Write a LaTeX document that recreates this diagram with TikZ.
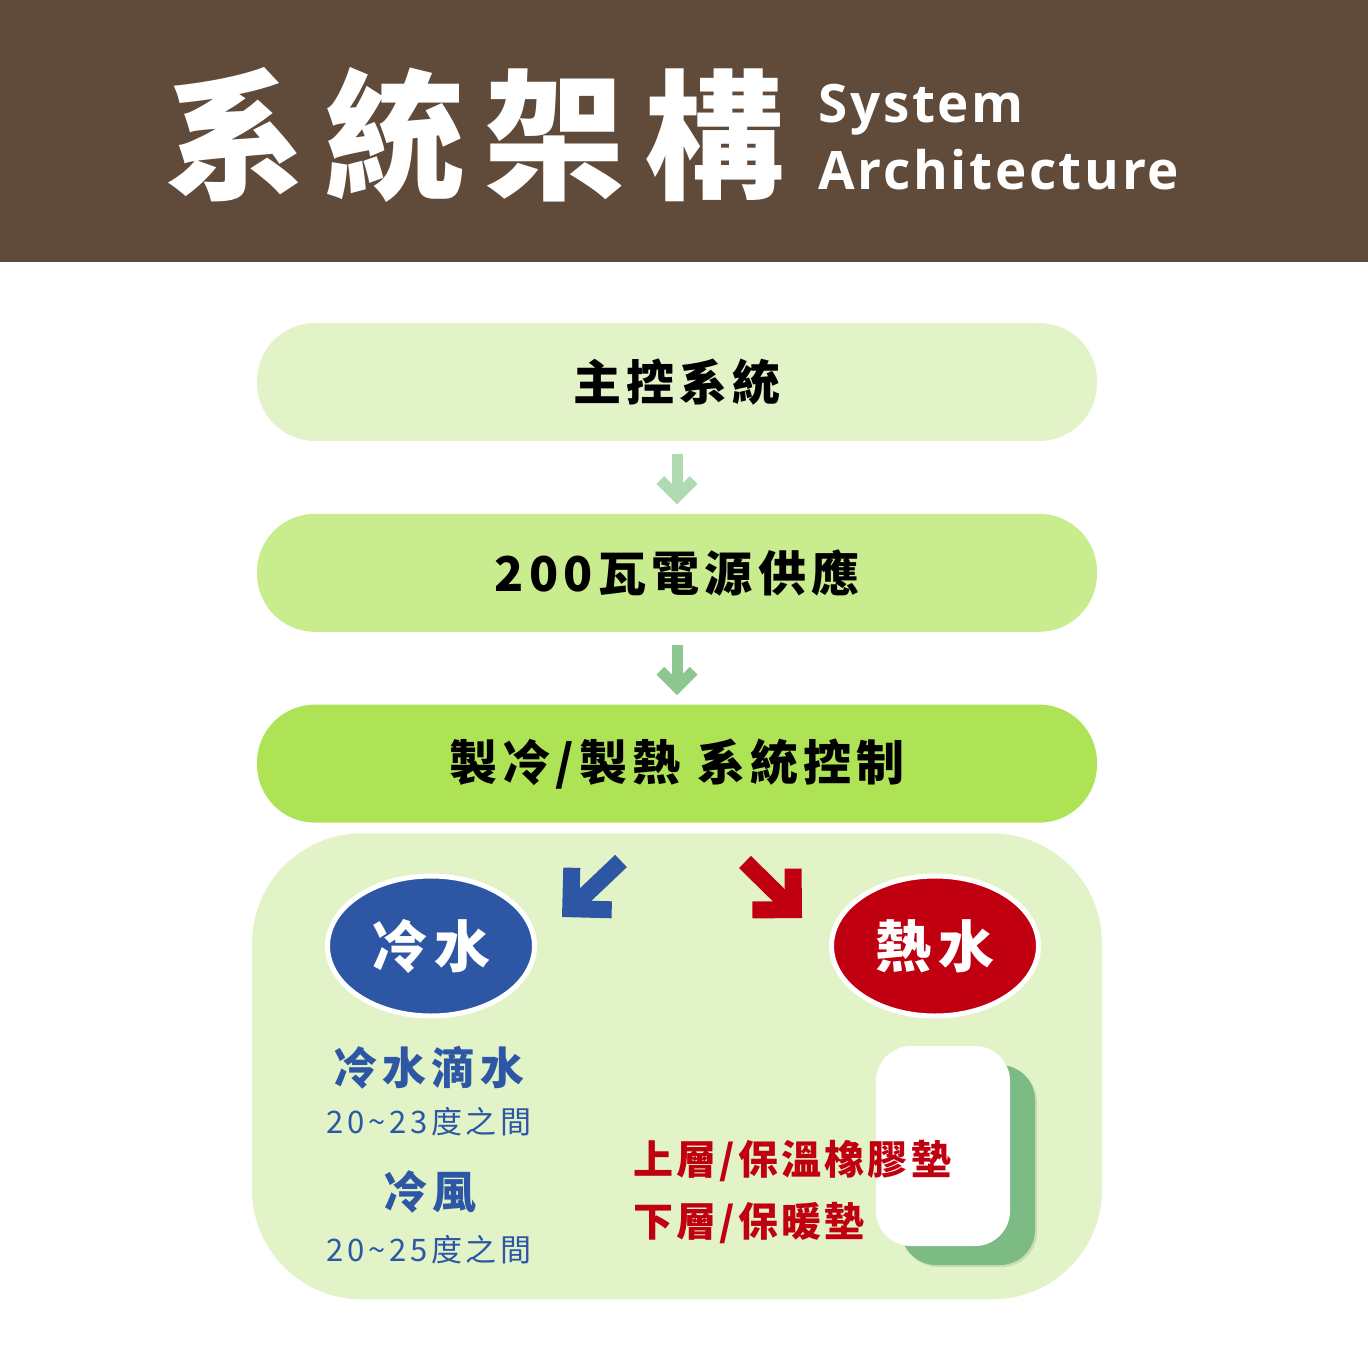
\documentclass[tikz,border=0pt]{standalone}
\usepackage{fontspec}
\setmainfont{Noto Sans CJK TC}
\newfontfamily\cjkfont{Noto Sans CJK TC}[LetterSpace=8]
\newfontfamily\cjkboxfont{Noto Sans CJK TC}[LetterSpace=11]
\newfontfamily\cjkwide{Noto Sans CJK TC}[LetterSpace=12]
\newfontfamily\cjktitle{Noto Sans CJK TC}[LetterSpace=14]
\newfontfamily\latinfont{Open Sans}[LetterSpace=5]
\usetikzlibrary{arrows.meta,positioning,shapes.geometric}
\definecolor{headbrown}{RGB}{96,75,59}
\definecolor{flowpale}{RGB}{226,244,199}
\definecolor{flowmid}{RGB}{201,236,142}
\definecolor{flowlime}{RGB}{174,227,86}
\definecolor{arrowpale}{RGB}{176,218,178}
\definecolor{arrowmid}{RGB}{140,199,143}
\definecolor{coldblue}{RGB}{45,87,165}
\definecolor{hotred}{RGB}{192,0,16}
\definecolor{padgreen}{RGB}{125,187,133}
\definecolor{padedge}{RGB}{200,222,176}
\tikzset{
  titletext/.style={
    text=white,
    inner sep=0pt,
    font=\cjktitle\bfseries\fontsize{70pt}{70pt}\selectfont
  },
  subtitle/.style={
    text=white,
    inner sep=0pt,
    font=\latinfont\bfseries\fontsize{26.5pt}{26.5pt}\selectfont
  },
  flowbox/.style={
    rectangle,
    rounded corners=29pt,
    minimum width=420pt,
    minimum height=59pt,
    inner sep=0pt,
    font=\cjkboxfont\bfseries\fontsize{24pt}{24pt}\selectfont
  },
  panelbox/.style={
    rectangle,
    rounded corners=55pt,
    fill=flowpale,
    minimum width=425pt,
    minimum height=233pt
  },
  flowarrow/.style={
    line width=5.5pt,
    -{Straight Barb[length=8.3pt, width=16.6pt]}
  },
  turnarrow/.style={
    line width=8.5pt,
    -{Straight Barb[length=14.5pt, width=29pt]}
  },
  tankball/.style={
    ellipse,
    draw=white,
    line width=2.5pt,
    minimum width=103.5pt,
    minimum height=70pt,
    inner sep=0pt,
    text=white,
    font=\cjkwide\bfseries\fontsize{28pt}{28pt}\selectfont
  },
  coldhead/.style={
    text=coldblue,
    inner sep=0pt,
    font=\cjkwide\bfseries\fontsize{22pt}{22pt}\selectfont
  },
  coldnote/.style={
    text=coldblue,
    inner sep=0pt,
    font=\cjkwide\fontsize{15.5pt}{15.5pt}\selectfont
  },
  hotnote/.style={
    text=hotred,
    inner sep=0pt,
    anchor=west,
    font=\cjkfont\bfseries\fontsize{20pt}{20pt}\selectfont
  },
  padcard/.style={
    rectangle,
    rounded corners=17.5pt,
    minimum width=67pt,
    minimum height=100pt
  }
}

\begin{document}
\begin{tikzpicture}[x=0.5pt, y=-0.5pt, node distance=36pt]
\useasboundingbox (0,0) rectangle (1368,1368);
\fill[white] (0,0) rectangle (1368,1368);
\fill[headbrown] (0,0) rectangle (1368,262);

% header
\node[titletext] (title) at (475,135) {系統架構};
\node[subtitle, anchor=base west] (subsys) at (818,123) {System};
\node[subtitle, anchor=base west] (subarch) at (818,190) {Architecture};

% control chain
\node[flowbox, fill=flowpale] (master) at (677,382) {主控系統};
\node[flowbox, fill=flowmid, below=of master] (power) {\raisebox{-1pt}{200瓦電源供應}};
\node[flowbox, fill=flowlime, below=of power] (thermo) {\raisebox{-2pt}{製冷/製熱 系統控制}};
\node[panelbox, below=5pt of thermo] (panel) {};

\draw[flowarrow, draw=arrowpale] ([yshift=-6.5pt]master.south) -- ([yshift=4.5pt]power.north);
\draw[flowarrow, draw=arrowmid] ([yshift=-6.5pt]power.south) -- ([yshift=4.5pt]thermo.north);

% cold and hot
\node[tankball, fill=coldblue] (cold) at (431,946) {冷水};
\node[tankball, fill=hotred] (hot) at (935,946) {熱水};

\coordinate (coldfrom) at (621,861);
\coordinate (coldto) at (562,917);
\coordinate (hotfrom) at (745,862);
\coordinate (hotto) at (802,918);
\draw[turnarrow, draw=coldblue] (coldfrom) -- (coldto);
\draw[turnarrow, draw=hotred] (hotfrom) -- (hotto);

\node[coldhead] (drip) at (429,1068) {冷水滴水};
\node[coldnote] (driptemp) at (429,1122) {20\textasciitilde23度之間};
\node[coldhead] (breeze) at (430,1192) {冷風};
\node[coldnote] (breezetemp) at (429,1250) {20\textasciitilde25度之間};

% pad card
\node[padcard, fill=padedge] (padedge) at (970,1167) {};
\node[padcard, fill=padgreen] (padback) at (968,1165) {};
\node[padcard, fill=white] (pad) at (943,1146) {};
\node[hotnote] (upper) at (633,1161) {上層/保溫橡膠墊};
\node[hotnote] (lower) at (633,1223) {下層/保暖墊};
\end{tikzpicture}
\end{document}
